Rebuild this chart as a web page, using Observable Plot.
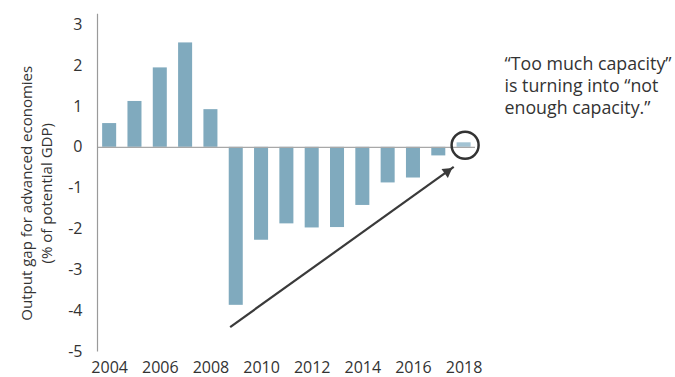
<!DOCTYPE html>
<html>
<head>
<meta charset="utf-8">
<script src="https://cdn.jsdelivr.net/npm/d3@7"></script>
<script src="https://cdn.jsdelivr.net/npm/@observablehq/plot@0.6"></script>
<style>
  body { margin: 0; background: #fff; }
  #chart svg { display: block; }
</style>
</head>
<body>
<div id="chart"></div>
<script>
// ---- data ----
const years = [2004, 2005, 2006, 2007, 2008, 2009, 2010, 2011, 2012, 2013, 2014, 2015, 2016, 2017, 2018];
const outputGap = [0.58, 1.12, 1.94, 2.55, 0.92, -3.86, -2.27, -1.87, -1.97, -1.96, -1.42, -0.87, -0.75, -0.21, 0.11];
const highlightedYear = 2018;
const xTicks = [2004, 2006, 2008, 2010, 2012, 2014, 2016, 2018];
const yTicks = [-5, -4, -3, -2, -1, 0, 1, 2, 3];
const yTitle = "Output gap for advanced economies\n(% of potential GDP)";
const noteLines = ["\u201CToo much capacity\u201D", "is turning into \u201Cnot", "enough capacity.\u201D"];
const arrowFrom = {year: 2008.76, value: -4.39};
const arrowTo = {year: 2017.59, value: -0.48};
const circleAt = {year: 2018, value: 0.05};

// ---- layout ----
const xDomain = [2003.52, 2018.45];
const yDomain = [-5, 3];
const axisTop = 3.25;
const barHalf = 0.277;

const data = years.map((year, i) => ({year, value: outputGap[i]}));

const chart = Plot.plot({
  width: 675,
  height: 377,
  marginLeft: 97,
  marginRight: 200,
  marginTop: 24,
  marginBottom: 25.5,
  style: {fontFamily: "'Open Sans', sans-serif", color: "#333", background: "#fff"},
  x: {domain: xDomain},
  y: {domain: yDomain},
  marks: [
    Plot.rectY(data, {
      x1: d => d.year - barHalf,
      x2: d => d.year + barHalf,
      y: "value",
      fill: d => d.year === highlightedYear ? "#a3c3d3" : "#80aabe"
    }),
    Plot.ruleY([0], {stroke: "#a8a8a8", strokeWidth: 1.2}),
    Plot.ruleX([xDomain[0]], {y1: yDomain[0], y2: axisTop, stroke: "#9a9a9a", strokeWidth: 1.2}),
    Plot.axisY(yTicks, {tickSize: 0, tickPadding: 15, fontSize: 16, tickFormat: d => String(d), label: null}),
    Plot.axisX(xTicks, {tickSize: 0, tickPadding: 9.5, fontSize: 16, tickFormat: d => String(d), label: null}),
    Plot.text([yTitle], {
      frameAnchor: "left", textAnchor: "middle", lineAnchor: "middle",
      rotate: -90, dx: -62, dy: 5,
      fontSize: 15, lineHeight: 1.38, fill: "#333"
    }),
    Plot.link([arrowFrom], {
      x1: "year", y1: "value", x2: () => arrowTo.year, y2: () => arrowTo.value,
      stroke: "#3a3a3a", strokeWidth: 2.2
    }),
    Plot.dot([arrowTo], {
      x: "year", y: "value", symbol: "triangle2", r: 5.2, rotate: 54.3,
      dx: -6.5, dy: 4.7, fill: "#3a3a3a", stroke: "none"
    }),
    Plot.dot([circleAt], {
      x: "year", y: "value", r: 13.5, dx: 1,
      fill: "none", stroke: "#333", strokeWidth: 2.5
    }),
    Plot.text([noteLines.join("\n")], {
      frameAnchor: "top-right", textAnchor: "start", lineAnchor: "top",
      dx: 29, dy: 30, fontSize: 17.8, lineHeight: 1.23, fill: "#333"
    })
  ]
});

document.getElementById("chart").appendChild(chart);
</script>
</body>
</html>
